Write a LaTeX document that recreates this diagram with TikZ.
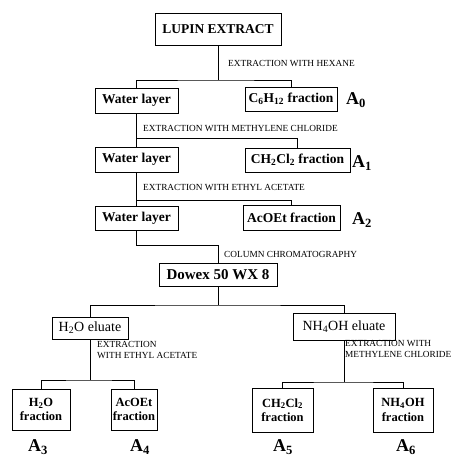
\documentclass[tikz,border=0pt]{standalone}
\usepackage{fontspec}
\setmainfont{Liberation Serif}
\begin{document}
\begin{tikzpicture}[x=1pt,y=-1pt,
  box/.style={draw, line width=0.9pt, inner sep=0pt, align=center,
    font=\fontsize{13.5}{14}\selectfont\bfseries},
  elbox/.style={box, font=\fontsize{14}{15}\selectfont},
  fbox/.style={box, font=\fontsize{12.5}{14.5}\selectfont\bfseries},
  lbl/.style={font=\fontsize{9.3}{11}\selectfont, anchor=west, inner sep=0pt, align=left},
  aname/.style={font=\fontsize{18}{19}\selectfont\bfseries, inner sep=0pt},
  conn/.style={line width=0.9pt}]
\useasboundingbox (0,0) rectangle (457,459);
% boxes
\node[box, minimum width=126pt, minimum height=32pt] (lupin) at (218,29) {LUPIN EXTRACT};
\node[box, minimum width=83pt, minimum height=25pt] (w1) at (136.5,100.5) {Water layer};
\node[box, minimum width=92pt, minimum height=24pt] (c6) at (291,99) {C\textsubscript{6}H\textsubscript{12} fraction};
\node[box, minimum width=83pt, minimum height=25pt] (w2) at (136.5,159.5) {Water layer};
\node[box, minimum width=105pt, minimum height=24pt] (ch2) at (297.5,160) {CH\textsubscript{2}Cl\textsubscript{2} fraction};
\node[box, minimum width=83pt, minimum height=24pt] (w3) at (136.5,218.5) {Water layer};
\node[box, minimum width=97pt, minimum height=25pt] (ac) at (291.5,217.5) {AcOEt fraction};
\node[box, minimum width=118pt, minimum height=23pt, font=\fontsize{15}{16}\selectfont\bfseries] (dowex) at (218,274.5) {Dowex 50 WX 8};
\node[elbox, minimum width=76pt, minimum height=22pt] (h2oel) at (90,328) {H\textsubscript{2}O eluate};
\node[elbox, minimum width=102pt, minimum height=27pt] (nhel) at (344,326.5) {NH\textsubscript{4}OH eluate};
\node[fbox, minimum width=58pt, minimum height=41pt] (f3) at (41,409.5) {H\textsubscript{2}O\\fraction};
\node[fbox, minimum width=46pt, minimum height=41pt] (f4) at (134,409.5) {AcOEt\\fraction};
\node[fbox, minimum width=61pt, minimum height=44pt] (f5) at (282.5,410) {CH\textsubscript{2}Cl\textsubscript{2}\\fraction};
\node[fbox, minimum width=60pt, minimum height=44pt] (f6) at (403,410) {NH\textsubscript{4}OH\\fraction};
% A labels
\node[aname] (a0) at (356,100) {A\textsubscript{0}};
\node[aname] (a1) at (362,163) {A\textsubscript{1}};
\node[aname] (a2) at (362,220) {A\textsubscript{2}};
\node[aname] (a3) at (38,447) {A\textsubscript{3}};
\node[aname] (a4) at (140,447) {A\textsubscript{4}};
\node[aname] (a5) at (283,447) {A\textsubscript{5}};
\node[aname] (a6) at (406,447) {A\textsubscript{6}};
% junctions
\coordinate (j0) at (218,80);
\coordinate (j1) at (136.5,138);
\coordinate (j2) at (136.5,200);
\coordinate (j3) at (218,245);
\coordinate (j4) at (218,305);
\coordinate (j5) at (90,380);
\coordinate (j6) at (344,382);
% connectors
\draw[conn] (lupin.south) -- (j0);
\draw[conn] (w1.north) |- (j0) -| (c6.north);
\draw[conn] (w1.south) -- (j1);
\draw[conn] (w2.north) |- (j1) -| (ch2.north);
\draw[conn] (w2.south) -- (j2);
\draw[conn] (w3.north) |- (j2) -| (ac.north);
\draw[conn] (w3.south) |- (j3) -- (dowex.north);
\draw[conn] (dowex.south) -- (j4);
\draw[conn] (h2oel.north) |- (j4) -| (nhel.north);
\draw[conn] (h2oel.south) -- (j5);
\draw[conn] (f3.north) |- (j5) -| (f4.north);
\draw[conn] (nhel.south) -- (j6);
\draw[conn] (f5.north) |- (j6) -| (f6.north);
% step labels
\node[lbl] (t0) at (228,63) {EXTRACTION WITH HEXANE};
\node[lbl] (t1) at (143,128) {EXTRACTION WITH METHYLENE CHLORIDE};
\node[lbl] (t2) at (143,187) {EXTRACTION WITH ETHYL ACETATE};
\node[lbl] (t3) at (224,254) {COLUMN CHROMATOGRAPHY};
\node[lbl] (t4) at (97,349.5) {EXTRACTION\\WITH ETHYL ACETATE};
\node[lbl] (t5) at (345,349) {EXTRACTION WITH\\METHYLENE CHLORIDE};
\end{tikzpicture}
\end{document}
